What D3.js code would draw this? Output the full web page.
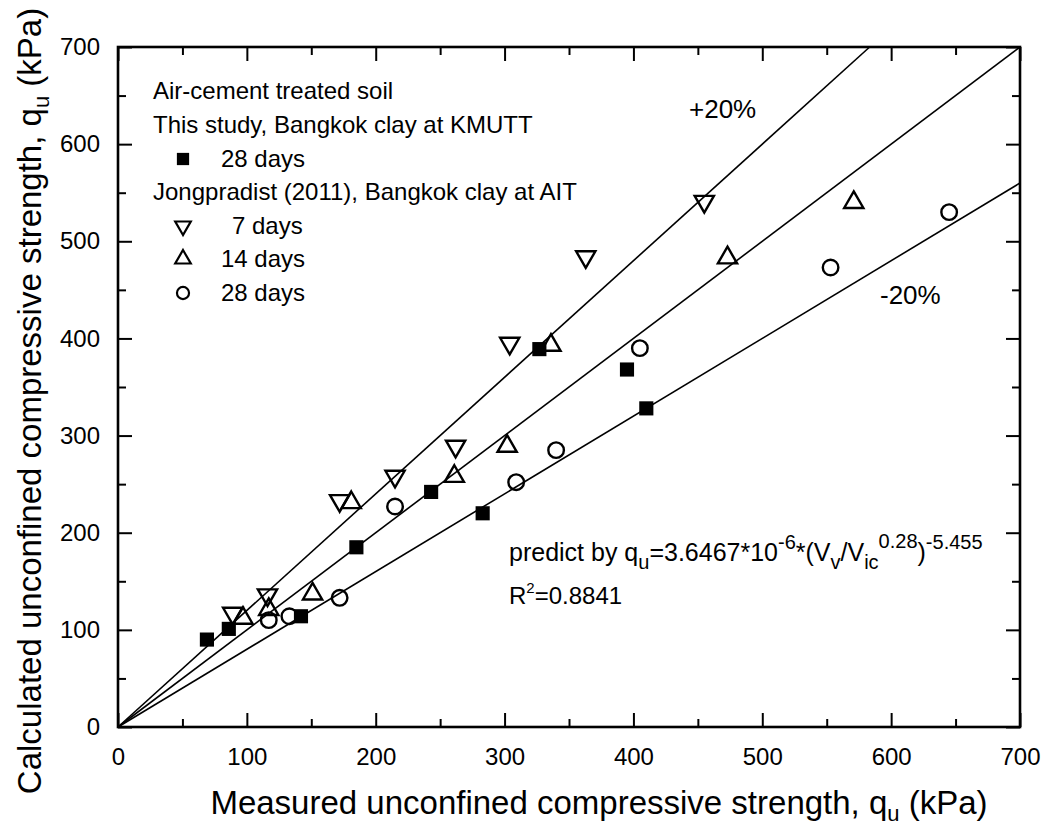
<!DOCTYPE html>
<html>
<head>
<meta charset="utf-8">
<script src="https://cdn.jsdelivr.net/npm/d3@7"></script>
<style>
  body { margin: 0; background: #fff; }
  svg text { font-family: "Liberation Sans", Arial, sans-serif; fill: #000; }
</style>
</head>
<body>
<svg id="chart" width="1054" height="829"></svg>
<script>
// data
var kmuttX = [69, 86, 142, 185, 243, 283, 327, 395, 410];
var kmuttY = [90, 101, 114, 185, 242, 220, 389, 368, 328];
var day7X = [89, 116, 172, 215, 262, 304, 363, 455];
var day7Y = [117, 136, 233, 258, 289, 395, 484, 541];
var day14X = [97, 117, 151, 181, 261, 302, 336, 473, 571];
var day14Y = [112, 121, 137, 231, 258, 289, 393, 483, 540];
var day28X = [117, 133, 172, 215, 309, 340, 405, 553, 645];
var day28Y = [110, 114, 133, 227, 252, 285, 390, 473, 530];
var bandRatios = [1.2, 1.0, 0.8];
var majorTicks = [0, 100, 200, 300, 400, 500, 600, 700];
var minorTicks = [50, 150, 250, 350, 450, 550, 650];

var svg = d3.select("#chart");
var x = d3.scaleLinear().domain([0, 700]).range([118, 1020]);
var y = d3.scaleLinear().domain([0, 700]).range([727, 47]);

// 1:1 and +/-20% lines
svg.selectAll("line.band")
    .data(bandRatios)
    .enter()
    .append("line")
    .attr("class", "band")
    .attr("x1", x(0)).attr("y1", y(0))
    .attr("x2", d => x(Math.min(700, 700 / d)))
    .attr("y2", d => y(Math.min(700, 700 / d) * d))
    .attr("stroke", "#000")
    .attr("stroke-width", 1.6);

// axes, ticks pointing inward
function styleAxis(g) {
    g.select(".domain").remove();
    g.selectAll(".tick line").attr("stroke", "#000").attr("stroke-width", 2);
    g.selectAll("text").style("font-size", "24px").attr("fill", "#000");
}
var fmt = d3.format("d");
svg.append("g").attr("transform", "translate(0," + y(0) + ")")
    .call(d3.axisBottom(x).tickValues(majorTicks).tickSize(-14).tickPadding(21).tickFormat(fmt))
    .call(styleAxis);
svg.append("g").attr("transform", "translate(0," + y(0) + ")")
    .call(d3.axisBottom(x).tickValues(minorTicks).tickSize(-8).tickFormat(""))
    .call(styleAxis);
svg.append("g").attr("transform", "translate(" + x(0) + ",0)")
    .call(d3.axisLeft(y).tickValues(majorTicks).tickSize(-14).tickPadding(18).tickFormat(fmt))
    .call(styleAxis);
svg.append("g").attr("transform", "translate(" + x(0) + ",0)")
    .call(d3.axisLeft(y).tickValues(minorTicks).tickSize(-8).tickFormat(""))
    .call(styleAxis);
svg.append("g").attr("transform", "translate(0," + y(700) + ")")
    .call(d3.axisTop(x).tickValues(majorTicks).tickSize(-14).tickFormat(""))
    .call(styleAxis);
svg.append("g").attr("transform", "translate(0," + y(700) + ")")
    .call(d3.axisTop(x).tickValues(minorTicks).tickSize(-8).tickFormat(""))
    .call(styleAxis);
svg.append("g").attr("transform", "translate(" + x(700) + ",0)")
    .call(d3.axisRight(y).tickValues(majorTicks).tickSize(-14).tickFormat(""))
    .call(styleAxis);
svg.append("g").attr("transform", "translate(" + x(700) + ",0)")
    .call(d3.axisRight(y).tickValues(minorTicks).tickSize(-8).tickFormat(""))
    .call(styleAxis);

svg.append("rect")
    .attr("x", x(0)).attr("y", y(700))
    .attr("width", x(700) - x(0)).attr("height", y(0) - y(700))
    .attr("fill", "none").attr("stroke", "#000").attr("stroke-width", 2.6);

// markers
var sqSym = d3.symbol().type(d3.symbolSquare).size(200);
var triSym = d3.symbol().type(d3.symbolTriangle).size(160);
var cirSym = d3.symbol().type(d3.symbolCircle).size(190);

function addSeries(xs, ys, sym, rot, filled) {
    svg.append("g").selectAll("path")
        .data(d3.zip(xs, ys))
        .enter()
        .append("path")
        .attr("d", sym)
        .attr("transform", d => "translate(" + x(d[0]) + "," + y(d[1]) + ") rotate(" + rot + ")")
        .attr("fill", filled ? "#000" : "none")
        .attr("stroke", "#000")
        .attr("stroke-width", filled ? 0 : 2.4);
}
addSeries(day7X, day7Y, triSym, 180, false);
addSeries(day14X, day14Y, triSym, 0, false);
addSeries(day28X, day28Y, cirSym, 0, false);
addSeries(kmuttX, kmuttY, sqSym, 0, true);

// legend
var lg = svg.append("g").style("font-size", "24px");
lg.append("text").attr("x", 153).attr("y", 99).text("Air-cement treated soil");
lg.append("text").attr("x", 153).attr("y", 133).text("This study, Bangkok clay at KMUTT");
lg.append("text").attr("x", 153).attr("y", 200).text("Jongpradist (2011), Bangkok clay at AIT");
var legItems = [
    {sym: d3.symbol().type(d3.symbolSquare).size(150), rot: 0, filled: true, cy: 159, label: "28 days", tx: 221},
    {sym: d3.symbol().type(d3.symbolTriangle).size(105), rot: 180, filled: false, cy: 226, label: "7 days", tx: 232},
    {sym: d3.symbol().type(d3.symbolTriangle).size(105), rot: 0, filled: false, cy: 259, label: "14 days", tx: 221},
    {sym: d3.symbol().type(d3.symbolCircle).size(115), rot: 0, filled: false, cy: 293, label: "28 days", tx: 221}
];
legItems.forEach(function(d) {
    lg.append("path")
        .attr("d", d.sym)
        .attr("transform", "translate(183," + d.cy + ") rotate(" + d.rot + ")")
        .attr("fill", d.filled ? "#000" : "none")
        .attr("stroke", "#000")
        .attr("stroke-width", d.filled ? 0 : 2.2);
    lg.append("text").attr("x", d.tx).attr("y", d.cy + 8).text(d.label);
});

// annotations
svg.append("text").attr("x", 689).attr("y", 118).style("font-size", "26px").text("+20%");
svg.append("text").attr("x", 880).attr("y", 304).style("font-size", "26px").text("-20%");

var f = svg.append("text").attr("x", 509).attr("y", 561).style("font-size", "25px");
f.append("tspan").text("predict by q");
f.append("tspan").attr("dy", 8).style("font-size", "20px").text("u");
f.append("tspan").attr("dy", -8).text("=3.6467*10");
f.append("tspan").attr("dy", -12).style("font-size", "20px").text("-6");
f.append("tspan").attr("dy", 12).text("*(V");
f.append("tspan").attr("dy", 8).style("font-size", "20px").text("v");
f.append("tspan").attr("dy", -8).text("/V");
f.append("tspan").attr("dy", 8).style("font-size", "20px").text("ic");
f.append("tspan").attr("dy", -21).style("font-size", "20px").text("0.28");
f.append("tspan").attr("dy", 13).text(")");
f.append("tspan").attr("dy", -12).style("font-size", "20px").text("-5.455");

var r2 = svg.append("text").attr("x", 509).attr("y", 604).style("font-size", "24px");
r2.append("tspan").text("R");
r2.append("tspan").attr("dy", -11).style("font-size", "15px").text("2");
r2.append("tspan").attr("dy", 11).text("=0.8841");

// axis titles
var xt = svg.append("text").attr("x", 599).attr("y", 814)
    .attr("text-anchor", "middle").style("font-size", "33px");
xt.append("tspan").text("Measured unconfined compressive strength, q");
xt.append("tspan").attr("dy", 7).style("font-size", "22px").text("u");
xt.append("tspan").attr("dy", -7).text(" (kPa)");

var yt = svg.append("text")
    .attr("transform", "translate(41,401) rotate(-90)")
    .attr("text-anchor", "middle").style("font-size", "33px");
yt.append("tspan").text("Calculated unconfined compressive strength, q");
yt.append("tspan").attr("dy", 8).style("font-size", "22px").text("u");
yt.append("tspan").attr("dy", -8).text(" (kPa)");
</script>
</body>
</html>
